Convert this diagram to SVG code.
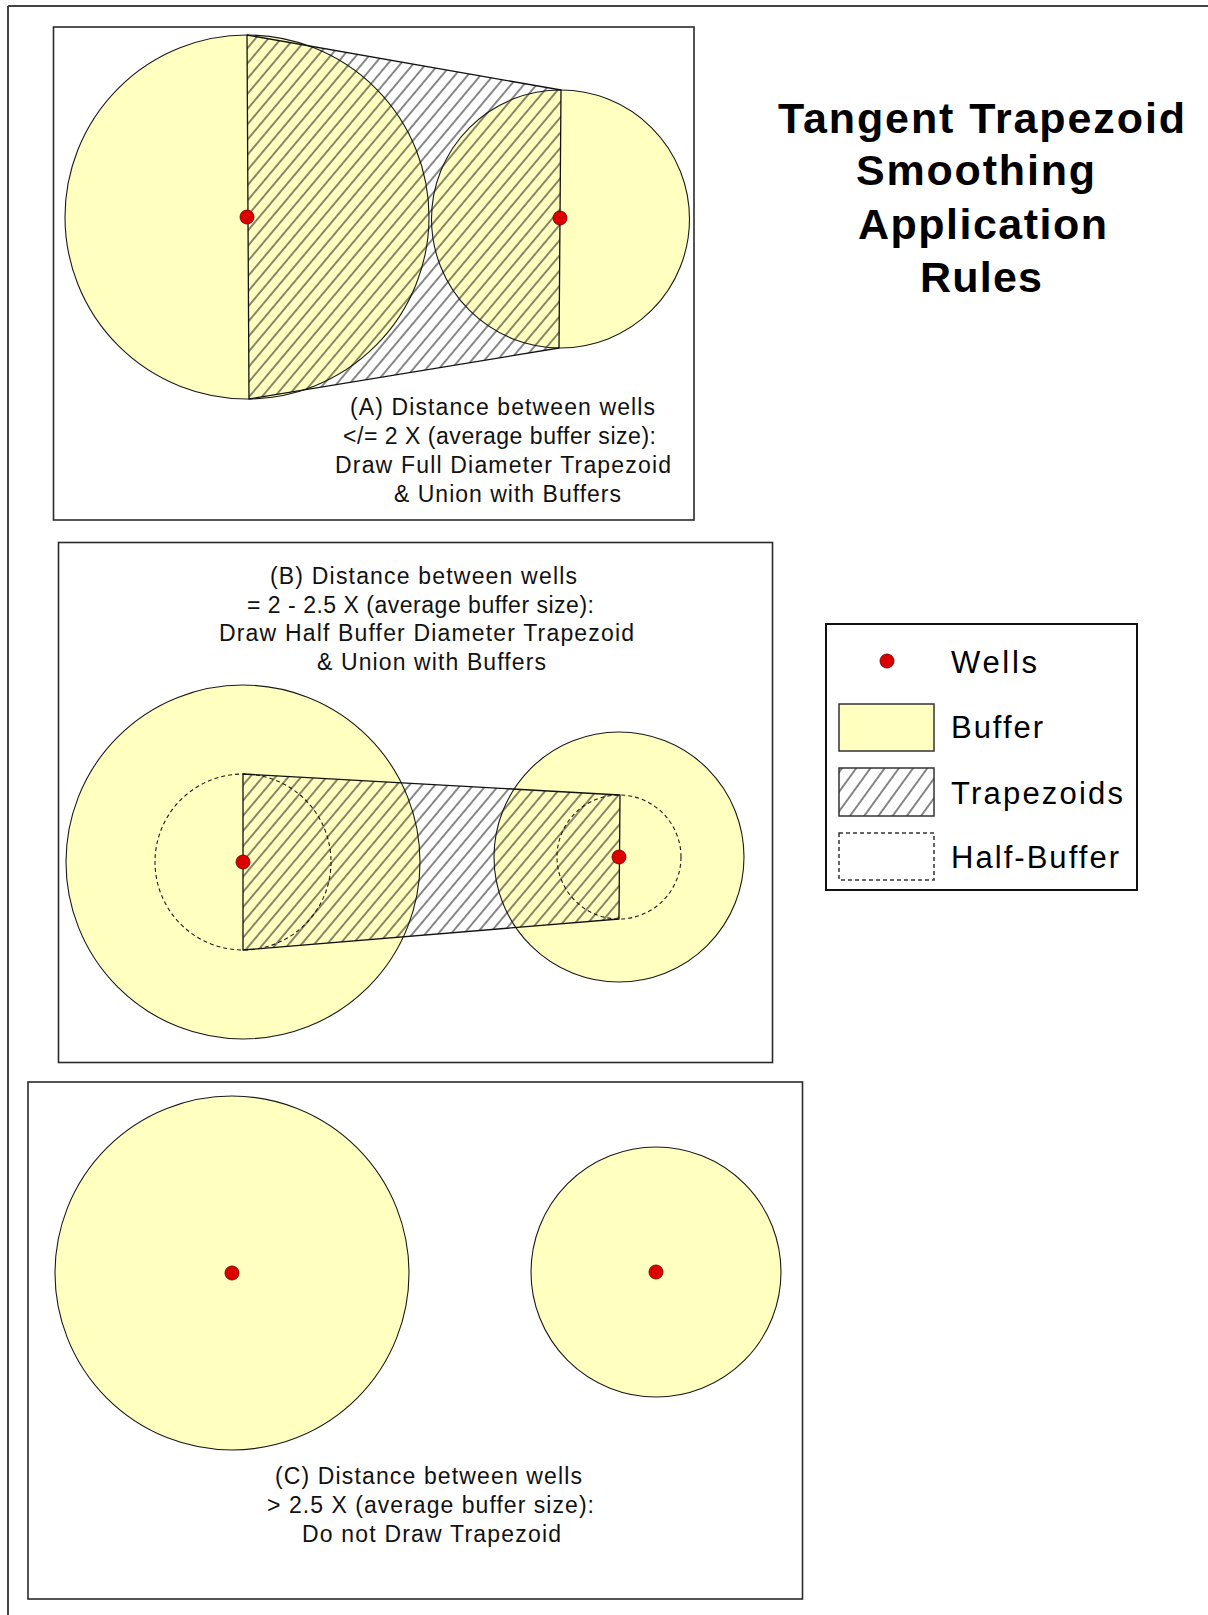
<svg xmlns="http://www.w3.org/2000/svg" width="1208" height="1615" viewBox="0 0 1208 1615">
<style>
.frame{fill:none;stroke:#2a2a2a;stroke-width:1.6}
.buf{fill:#FFFFC0;stroke:#1a1a1a;stroke-width:1.1}
.half{fill:none;stroke:#1a1a1a;stroke-width:1.1;stroke-dasharray:4,3}
.trap{fill:url(#hatch);stroke:#111;stroke-width:1.3;stroke-linejoin:round}
.well{fill:#DD0000;stroke:#7a0000;stroke-width:0.9}
.lbl{font-family:"Liberation Sans",Arial,sans-serif;font-size:23px;fill:#111}
.leg{font-family:"Liberation Sans",Arial,sans-serif;font-size:31px;fill:#000}
.ttl{font-family:"Liberation Sans",Arial,sans-serif;font-size:43px;font-weight:bold;fill:#000}
</style>
<defs>
<pattern id="hatch" patternUnits="userSpaceOnUse" width="20" height="9.8" patternTransform="rotate(-50)">
<line x1="-1" y1="4.9" x2="21" y2="4.9" stroke="#111" stroke-width="1"/>
</pattern>
<pattern id="hatchL" patternUnits="userSpaceOnUse" width="20" height="11.5" patternTransform="rotate(-54)">
<line x1="-1" y1="5.75" x2="21" y2="5.75" stroke="#111" stroke-width="1"/>
</pattern>
</defs>
<rect x="0" y="0" width="1208" height="1615" fill="#fff"/>
<g id="outer-frame">
<line x1="8" y1="6" x2="1208" y2="6" stroke="#444" stroke-width="2"/>
<line x1="8" y1="6" x2="8" y2="1615" stroke="#444" stroke-width="2"/>
</g>
<g id="title">
<text class="ttl" x="778" y="133" textLength="407">Tangent Trapezoid</text>
<text class="ttl" x="856" y="185" textLength="239">Smoothing</text>
<text class="ttl" x="858" y="239" textLength="249">Application</text>
<text class="ttl" x="920" y="292" textLength="122">Rules</text>
</g>
<g id="panel-a">
<rect class="frame" x="53.5" y="27" width="640.5" height="493"/>
<circle class="buf" cx="247" cy="217" r="182"/>
<circle class="buf" cx="560.5" cy="219" r="129"/>
<polygon class="trap" points="247,35 561,90 559,348 249,399"/>
<circle class="well" cx="247" cy="217" r="7"/>
<circle class="well" cx="560" cy="218" r="7"/>
<text class="lbl" x="350" y="415" textLength="305">(A) Distance between wells</text>
<text class="lbl" x="343" y="444" textLength="313">&lt;/= 2 X (average buffer size):</text>
<text class="lbl" x="335" y="473" textLength="336">Draw Full Diameter Trapezoid</text>
<text class="lbl" x="394" y="502" textLength="227">&amp; Union with Buffers</text>
</g>
<g id="panel-b">
<rect class="frame" x="58.5" y="542.5" width="714" height="520"/>
<circle class="buf" cx="243" cy="862" r="177"/>
<circle class="buf" cx="619" cy="857" r="125"/>
<circle class="half" cx="243" cy="862" r="88"/>
<circle class="half" cx="619" cy="857" r="62"/>
<polygon class="trap" points="243,774 620,795 619,919 243,950"/>
<circle class="well" cx="243" cy="862" r="7"/>
<circle class="well" cx="619" cy="857" r="7"/>
<text class="lbl" x="270" y="584" textLength="307">(B) Distance between wells</text>
<text class="lbl" x="247" y="612.5" textLength="347">= 2 - 2.5 X (average buffer size):</text>
<text class="lbl" x="219" y="641" textLength="415">Draw Half Buffer Diameter Trapezoid</text>
<text class="lbl" x="317" y="670" textLength="229">&amp; Union with Buffers</text>
</g>
<g id="panel-c">
<rect class="frame" x="28" y="1082" width="774.5" height="517"/>
<circle class="buf" cx="232" cy="1273" r="177"/>
<circle class="buf" cx="656" cy="1272" r="125"/>
<circle class="well" cx="232" cy="1273" r="7"/>
<circle class="well" cx="656" cy="1272" r="7"/>
<text class="lbl" x="275" y="1484" textLength="307">(C) Distance between wells</text>
<text class="lbl" x="267" y="1512.5" textLength="327">&gt; 2.5 X (average buffer size):</text>
<text class="lbl" x="302" y="1542" textLength="259">Do not Draw Trapezoid</text>
</g>
<g id="legend">
<rect x="826" y="624" width="311" height="266" fill="#fff" stroke="#111" stroke-width="2"/>
<circle class="well" cx="887" cy="661" r="7"/>
<rect x="839" y="704" width="95" height="47" fill="#FFFFC0" stroke="#333" stroke-width="1.5"/>
<rect x="839" y="768" width="95" height="48" fill="url(#hatchL)" stroke="#333" stroke-width="1.5"/>
<rect x="839" y="833" width="95" height="47" fill="none" stroke="#333" stroke-width="1.5" stroke-dasharray="4,3"/>
<text class="leg" x="951" y="672.5" textLength="86">Wells</text>
<text class="leg" x="951" y="738" textLength="92">Buffer</text>
<text class="leg" x="951" y="803.5" textLength="172">Trapezoids</text>
<text class="leg" x="951" y="867.5" textLength="168">Half-Buffer</text>
</g>
</svg>
